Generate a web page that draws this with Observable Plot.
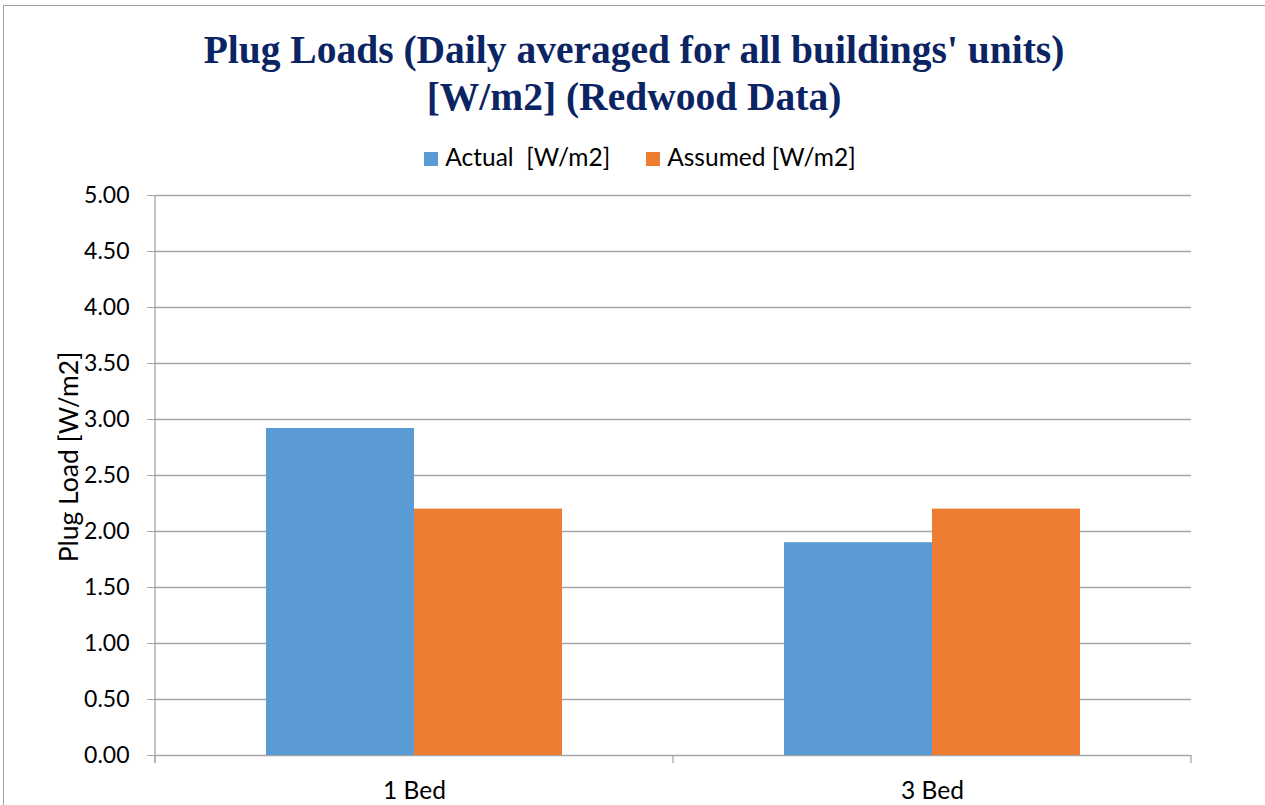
<!DOCTYPE html>
<html><head><meta charset="utf-8">
<script src="https://cdn.jsdelivr.net/npm/d3@7"></script>
<script src="https://cdn.jsdelivr.net/npm/@observablehq/plot@0.6"></script>
<style>
body{margin:0;background:#fff;}
#wrap{position:relative;width:1265px;height:805px;overflow:hidden;font-family:Lato,"Open Sans",sans-serif;}
#border{position:absolute;left:3px;top:5px;width:1300px;height:900px;border:1.5px solid #a0a0a0;box-sizing:border-box;}
#title{position:absolute;top:27px;left:0;width:1268px;text-align:center;font-family:"Liberation Serif",serif;font-weight:bold;font-size:39.5px;color:#0b2463;line-height:47px;}
#legend{position:absolute;top:142px;left:0;width:1280px;text-align:center;font-size:24.5px;color:#000;white-space:pre;}
#legend span.sw{display:inline-block;width:14px;height:14px;margin-right:7px;vertical-align:0px;}
#legend span.item{margin:0 18px;}
#chart{position:absolute;top:170px;left:0;}
</style>
</head><body>
<div id="wrap">
<div id="border"></div>
<div id="title">Plug Loads (Daily averaged for all buildings' units)<br>[W/m2] (Redwood Data)</div>
<div id="legend"></div>
<div id="chart"></div>
</div>
<script>
const categories = ["1 Bed", "3 Bed"];
const seriesNames = ["Actual  [W/m2]", "Assumed [W/m2]"];
const actualValues = [2.92, 1.90];
const assumedValues = [2.20, 2.20];
const yTicks = [0, 0.5, 1, 1.5, 2, 2.5, 3, 3.5, 4, 4.5, 5];
const colors = ["#5B9BD5", "#ED7D31"];
const yLabel = "Plug Load [W/m2]";

const actualRows = categories.map((c, i) => ({category: c, series: seriesNames[0], value: actualValues[i]}));
const assumedRows = categories.map((c, i) => ({category: c, series: seriesNames[1], value: assumedValues[i]}));

// legend
const legend = document.getElementById("legend");
seriesNames.forEach((s, i) => {
  const item = document.createElement("span");
  item.className = "item";
  const sw = document.createElement("span");
  sw.className = "sw";
  sw.style.background = colors[i];
  item.appendChild(sw);
  item.appendChild(document.createTextNode(s));
  legend.appendChild(item);
});

const gridColor = "#a6a6a6";

const chart = Plot.plot({
  width: 1265,
  height: 635,
  marginTop: 25,
  marginLeft: 155,
  marginRight: 74,
  marginBottom: 50,
  style: {fontFamily: "Lato, 'Open Sans', sans-serif", fontSize: "23px", color: "#000", background: "transparent"},
  x: {domain: categories, padding: 0, label: null},
  y: {domain: [0, 5], label: null},
  color: {domain: seriesNames, range: colors},
  marks: [
    Plot.gridY(yTicks, {stroke: gridColor, strokeOpacity: 1, strokeWidth: 1.3}),
    Plot.barY(actualRows, {x: "category", y: "value", fill: "series", insetLeft: 111, insetRight: 259}),
    Plot.barY(assumedRows, {x: "category", y: "value", fill: "series", insetLeft: 259, insetRight: 111}),
    Plot.axisY(yTicks, {tickFormat: d => d.toFixed(2), tickSize: 8, tickPadding: 18, stroke: gridColor, fill: "#000", label: null}),
    Plot.axisX({tickSize: 0, tickPadding: 26, fill: "#000", label: null, fontSize: 24.5}),
    (index, scales, values, dimensions) => {
      const {width, height, marginLeft, marginRight, marginTop, marginBottom} = dimensions;
      const x = scales.x;
      const y0 = height - marginBottom;
      const g = d3.create("svg:g");
      const edges = categories.map(c => x(c)).concat([width - marginRight]);
      // vertical axis line
      g.append("line").attr("x1", marginLeft).attr("x2", marginLeft)
        .attr("y1", marginTop).attr("y2", y0 + 8)
        .attr("stroke", gridColor).attr("stroke-width", 1.3);
      edges.forEach(e => {
        g.append("line").attr("x1", e).attr("x2", e).attr("y1", y0).attr("y2", y0 + 8)
          .attr("stroke", gridColor).attr("stroke-width", 1.3);
      });
      g.append("text")
        .attr("transform", `translate(68,${(marginTop + y0) / 2 - 18}) rotate(-90)`)
        .attr("text-anchor", "middle").attr("dominant-baseline", "central")
        .attr("fill", "#000")
        .style("font-size", "26.5px")
        .text(yLabel);
      return g.node();
    }
  ]
});
document.getElementById("chart").appendChild(chart);
</script>
</body></html>
